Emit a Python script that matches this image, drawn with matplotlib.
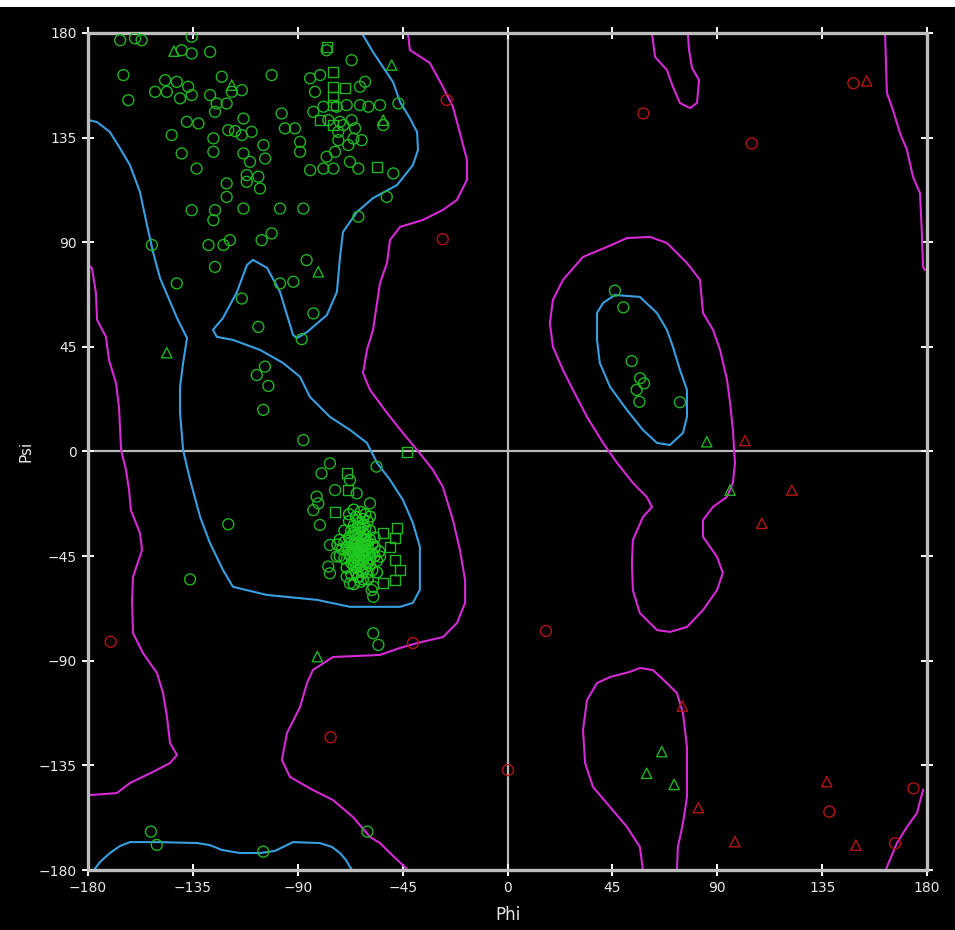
import matplotlib
matplotlib.use("Agg")
import matplotlib.pyplot as plt
from matplotlib.patches import Rectangle
import numpy as np

# ---------------- contour lines (phi, psi) ----------------
blue_beta = [(-180,142.6),(-176.1,141.7),(-170.6,137.4),(-166.3,130.5),(-162.0,123.2),(-157.7,111.6),
    (-154.7,97.4),(-152.1,85.8),(-149.1,74.6),(-141.8,57.4),(-137.5,48.8),(-139.2,38.1),(-140.5,27.8),
    (-140.5,16.6),(-139.2,0.7),(-136.2,-12.2),(-131.9,-28.1),(-127.7,-39.3),(-122.1,-50.9),(-117.8,-58.2),
    (-103.2,-61.7),(-81.8,-63.8),(-67.6,-66.8),(-46.1,-66.8),(-40.6,-65.1),(-37.6,-59.5),(-37.6,-41.0),
    (-40.6,-30.7),(-44.9,-20.8),(-50.4,-12.2),(-56.0,-4.9),(-60.3,3.7),(-67.6,9.3),(-76.2,14.9),
    (-84.8,23.5),(-89.0,32.1),(-96.3,38.1),(-106.2,43.7),(-117.8,48.0),(-124.7,49.3),(-126.4,52.3),
    (-122.1,57.4),(-116.1,68.6),(-111.8,80.2),(-109.2,82.4),(-103.2,79.0),(-97.6,68.6),(-92.0,50.1),
    (-90.3,48.8),(-86.0,51.4),(-77.5,58.7),(-73.2,68.6),(-71.9,83.3),(-70.6,94.4),(-64.6,103.0),
    (-57.7,109.0),(-47.4,114.6),(-40.6,123.2),(-38.4,129.7),(-38.8,137.4),(-41.9,143.4),(-46.1,150.3),
    (-49.1,158.9),(-57.7,171.8),(-62.0,179.1),(-62.4,180)]
blue_bottom = [(-177.4,-180),(-174.9,-176.6),(-170.6,-172.7),(-166.3,-169.7),(-162.0,-168.0),
    (-150.0,-168.0),(-133.2,-168.4),(-127.7,-169.3),(-122.5,-171.4),(-114.8,-172.7),(-106.2,-172.7),
    (-99.8,-171.8),(-95.5,-169.7),(-92.0,-168.0),(-80.5,-168.4),(-75.3,-170.1),(-71.9,-172.7),
    (-69.3,-175.7),(-67.6,-178.7),(-66.7,-180)]
blue_alphaL = [(46.1,67.3),(56.8,66.5),(64.1,59.6),(68.4,52.3),(71.0,45.0),(74.0,35.1),(77.0,26.5),
    (77.0,14.9),(75.3,8.0),(69.7,2.8),(64.1,3.7),(58.1,9.3),(51.2,17.9),(44.0,27.8),(39.6,38.1),
    (38.4,48.0),(38.4,59.6),(41.0,63.9),(46.1,67.3)]

mag_main = [(-42.7,180),(-41.9,172.7),(-33.3,167.1),(-27.7,156.8),(-23.4,148.2),(-20.4,137.0),
    (-17.4,125.4),(-17.4,116.8),(-21.7,108.2),(-27.7,103.9),(-36.3,99.6),(-46.1,96.6),(-50.4,91.0),
    (-51.7,81.1),(-54.7,72.5),(-57.7,52.3),(-60.3,43.7),(-62.0,33.8),(-59.0,26.5),(-51.7,16.6),
    (-44.9,8.0),(-38.8,0.7),(-32.0,-7.9),(-27.7,-15.3),(-23.4,-29.5),(-20.4,-42.4),(-18.2,-55.3),
    (-18.2,-65.1),(-21.7,-73.8),(-27.7,-79.8),(-38.8,-82.4),(-46.1,-84.5),(-54.7,-87.5),(-74.9,-88.4),
    (-83.5,-94.0),(-86.0,-99.5),(-89.0,-109.9),(-94.6,-121.0),(-96.8,-132.7),(-93.3,-140.0),
    (-83.5,-145.6),(-74.9,-149.9),(-66.3,-157.2),(-59.0,-165.8),(-54.7,-168.4),(-50.4,-172.7),(-42.7,-180)]
mag_left = [(-180,80.2),(-178.3,78.9),(-176.6,68.2),(-176.1,56.6),(-172.3,49.3),(-171.0,39.4),
    (-168.0,29.5),(-166.7,19.1),(-165.8,0.7),(-163.7,-7.9),(-162.4,-16.5),(-161.6,-25.2),(-157.7,-35.1),
    (-156.8,-42.4),(-160.7,-54.0),(-161.1,-63.9),(-160.7,-78.1),(-156.4,-86.7),(-150.4,-95.3),
    (-147.8,-103.9),(-146.1,-114.2),(-144.8,-125.4),(-141.8,-130.5),(-144.8,-134.0),(-152.1,-137.8),
    (-162.0,-142.6),(-167.6,-146.9),(-177.9,-147.7),(-180,-147.7)]
mag_alphaL = [(51.3,91.8),(61.1,92.3),(68.4,89.7),(77.0,81.1),(82.6,73.8),(83.9,59.6),(88.2,52.3),
    (91.2,43.7),(94.2,30.8),(95.5,20.9),(96.7,9.3),(97.6,-4.9),(96.7,-13.5),(94.2,-19.5),(88.2,-23.8),
    (83.9,-29.5),(83.9,-36.7),(89.9,-45.3),(92.4,-52.2),(89.9,-59.6),(83.9,-68.2),(77.0,-75.5),
    (69.7,-77.6),(64.1,-76.8),(56.8,-69.5),(53.8,-59.6),(53.4,-48.0),(53.8,-38.1),(58.1,-28.2),
    (62.0,-23.9),(59.8,-19.6),(53.8,-13.5),(47.0,-4.9),(41.0,3.7),(34.1,14.9),(28.1,26.5),(23.8,35.1),
    (19.5,45.0),(18.2,55.3),(19.5,65.2),(23.8,73.8),(32.4,83.7),(42.7,88.0),(51.3,91.8)]
mag_lowright = [(58.1,-180),(56.8,-170.1),(51.3,-161.5),(44.0,-152.9),(36.7,-144.3),(33.3,-134.0),
    (32.4,-119.8),(34.1,-106.9),(38.4,-99.6),(44.0,-97.0),(52.5,-94.8),(56.8,-93.1),(62.4,-94.0),
    (68.4,-99.6),(72.7,-103.9),(75.3,-112.5),(77.0,-127.1),(77.0,-148.6),(75.3,-159.8),(73.1,-170.1),(72.7,-180)]
mag_topdip = [(62.0,180),(63.3,169.7),(68.4,164.1),(71.0,156.8),(74.0,149.9),(78.3,147.7),(81.3,149.9),
    (82.2,159.8),(79.2,164.9),(77.9,172.7),(77.4,180)]
mag_righttop = [(162.0,180),(162.8,154.2),(165.4,146.9),(168.4,137.0),(171.4,129.7),(174.0,118.1),
    (177.0,111.2),(177.8,94.0),(178.3,79.4),(179.1,78.1)]
mag_rightbottom = [(178.3,-145.6),(175.7,-155.5),(171.4,-161.5),(167.1,-168.4),(162.8,-178.7),(162.4,-180)]

# ---------------- residues ----------------
green_circles = [(-166.2,176.9),(-159.8,177.7),(-157.0,176.9),(-135.5,178.4),(-139.8,172.6),(-135.5,171.2),
    (-127.6,171.9),(-164.8,161.9),(-162.7,151.1),(-151.2,154.7),(-146.9,159.7),(-146.2,154.7),(-141.9,159.0),
    (-140.5,151.9),(-137.0,156.9),(-135.5,153.3),(-127.6,153.3),(-124.8,149.7),(-125.5,146.1),(-120.5,149.7),
    (-122.6,161.2),(-114.0,155.4),(-118.3,154.7),(-137.6,141.8),(-132.6,141.1),(-144.1,136.1),(-139.8,128.2),
    (-133.4,121.7),(-126.2,134.7),(-126.2,128.9),(-119.8,138.2),(-116.9,137.8),(-113.3,143.2),(-114.0,136.1),
    (-109.8,137.5),(-104.7,131.8),(-104.0,126.0),(-113.3,128.2),(-110.5,124.6),(-111.9,118.9),(-106.9,118.2),
    (-111.9,116.0),(-106.2,113.1),(-120.5,115.3),(-120.5,109.5),(-113.3,104.5),(-125.5,103.8),(-135.5,103.8),
    (-126.2,99.5),(-128.3,88.8),(-121.9,88.8),(-119.1,90.9),(-105.5,90.9),(-101.2,93.8),(-125.5,79.4),
    (-141.9,72.3),(-114.0,65.8),(-106.9,53.6),(-97.6,104.5),(-87.6,104.5),(-101.2,161.9),(-96.9,145.4),
    (-95.5,139.0),(-91.2,139.0),(-89.0,133.2),(-89.0,128.9),(-84.7,121.0),(-79.0,121.7),(-74.7,121.7),
    (-77.6,126.8),(-74.0,128.9),(-152.6,88.8),
    (-77.6,172.6),(-66.9,168.3),(-84.7,160.5),(-80.4,161.9),(-82.6,154.7),(-79.0,148.3),(-73.3,148.3),
    (-69.0,149.0),(-63.3,149.0),(-59.7,148.3),(-54.7,149.0),(-63.3,156.9),(-61.1,159.0),(-46.8,149.7),
    (-53.3,140.4),(-83.3,146.1),(-76.9,142.5),(-71.9,141.8),(-66.9,142.5),(-70.4,140.4),(-65.4,139.0),
    (-72.6,133.9),(-68.3,131.8),(-66.1,134.6),(-62.6,133.9),(-72.6,137.5),(-67.6,124.6),(-64.0,121.7),
    (-49.0,119.6),(-51.8,109.5),(-64.0,101.0),(-86.2,82.3),(-97.6,72.3),(-91.9,73.0),(-83.3,59.4),(-88.3,48.3),
    (-104.1,36.5),(-107.6,32.9),(-102.6,28.2),(-104.8,17.9),(-87.6,4.9),(-76.2,-5.1),(-79.8,-9.4),
    (-67.6,-12.3),(-56.2,-6.5),(-74.0,-16.6),(-64.7,-18.0),(-81.9,-19.4),(-81.2,-22.3),(-83.3,-25.2),
    (-59.0,-22.3),(-80.5,-31.6),(-76.2,-40.2),(-54.7,-45.2),(-57.6,-58.2),(-57.6,-62.5),(-58.3,-59.6),
    (-76.9,-49.5),(-76.2,-52.4),(-73.3,-45.2),(-67.6,-56.7),(-69.0,-53.8),(-64.0,-53.8),(-119.8,-31.3),
    (-136.2,-55.0),(-57.6,-78.2),(-55.4,-83.2),(-153.0,-163.5),(-150.5,-169.2),(-104.8,-172.1),(-60.1,-163.5),
    (46.1,69.2),(49.7,62.0),(53.3,38.9),(56.9,31.5),(58.6,29.3),(55.4,26.5),(56.6,21.4),(74.0,21.2)]
helix_cluster = [(-64,-41),(-62,-40),(-66,-42),(-63,-44),(-65,-38),(-61,-43),(-67,-39),(-60,-41),(-63,-37),
    (-65,-46),(-62,-47),(-68,-44),(-59,-38),(-64,-35),(-66,-35),(-61,-36),(-69,-41),(-58,-44),(-63,-49),
    (-67,-48),(-60,-48),(-65,-50),(-62,-52),(-70,-46),(-57,-41),(-68,-37),(-61,-33),(-64,-31),(-66,-32),
    (-59,-34),(-71,-42),(-72,-38),(-56,-47),(-58,-51),(-64,-54),(-67,-53),(-60,-55),(-69,-50),(-62,-29),
    (-65,-28),(-60,-30),(-70,-34),(-57,-37),(-55,-43),(-56,-52),(-63,-56),(-66,-57),(-68,-30),(-72,-45),
    (-73,-40),(-61,-45),(-63,-42),(-65,-43),(-62,-38),(-64,-45),(-66,-40),(-60,-39),(-63,-46),(-67,-45),
    (-59,-46),(-62,-43),(-64,-39),(-61,-40),(-65,-40),(-63,-40),(-66,-44),(-60,-44),(-62,-35),(-68,-42),
    (-58,-40),(-64,-48),(-61,-50),(-66,-47),(-59,-49),(-63,-33),(-67,-34),(-65,-52),(-62,-55),(-70,-39),
    (-57,-45),(-63,-26),(-61,-27),(-66,-25),(-59,-28),(-68,-27),(-64,-43),(-62,-45),(-65,-36),(-61,-38),
    (-63,-51),(-66,-49),(-60,-52),(-64,-33),(-62,-32),(-67,-43)]
green_squares = [(-77.6,174.1),(-74.7,163.3),(-74.7,156.9),(-69.7,156.2),(-74.7,152.6),(-74.7,149.0),
    (-80.4,142.5),(-74.7,140.4),(-56.1,122.5),(-43.3,-0.1),(-69.0,-9.4),(-68.3,-16.6),(-74.0,-25.9),
    (-47.6,-33.1),(-53.3,-35.2),(-48.3,-37.4),(-50.4,-40.9),(-48.3,-46.7),(-46.2,-51.0),(-48.3,-55.3),
    (-53.3,-56.7)]
green_triangles = [(-143.1,172.2),(-118.3,157.6),(-49.7,166.2),(-53.3,142.5),(-81.2,77.3),(-146.2,42.5),
    (-81.6,-88.2),(85.5,4.2),(95.5,-16.6),(66.2,-129.1),(59.7,-138.4),(71.5,-143.2)]
red_circles = [(58.3,145.4),(104.8,132.5),(148.4,158.4),(-26.1,151.2),(-27.8,91.3),(138.1,-154.9),
    (174.2,-144.9),(166.3,-168.5),(-170.3,-81.8),(-75.9,-122.9),(-40.6,-82.4),(0.2,-137.0),(16.5,-77.2)]
red_triangles = [(154.1,159.4),(101.9,4.7),(122.0,-16.6),(109.1,-30.9),(75.0,-109.5),(81.9,-153.2),
    (97.6,-167.8),(137.0,-142.0),(149.5,-169.3)]

ticks = [-180, -135, -90, -45, 0, 45, 90, 135, 180]

# ---------------- figure ----------------
W, H = 955, 930
fig = plt.figure(figsize=(W/100, H/100), dpi=100, facecolor="black")
fig.patches.append(Rectangle((0, 1-7/H), 1, 7/H, transform=fig.transFigure,
                             facecolor="white", edgecolor="none", zorder=-1))
ax = fig.add_axes([88/W, 60/H, 839/W, 837/H])
ax.set_facecolor("black")

BLUE = "#3a9fe0"
MAG = "#d52ad5"
for line in [blue_beta, blue_bottom, blue_alphaL]:
    a = np.array(line)
    ax.plot(a[:, 0], a[:, 1], color=BLUE, lw=1.5, zorder=2)
for line in [mag_main, mag_left, mag_alphaL, mag_lowright, mag_topdip, mag_righttop, mag_rightbottom]:
    a = np.array(line)
    ax.plot(a[:, 0], a[:, 1], color=MAG, lw=1.5, zorder=2)

ax.axhline(0, color="#b8b8b8", lw=1.6, zorder=1)
ax.axvline(0, color="#b8b8b8", lw=1.6, zorder=1)

GREEN = "#22b422"
RED = "#b41414"
ms = 62
def sc(pts, marker, color, s=ms):
    a = np.array(pts, dtype=float)
    ax.scatter(a[:, 0], a[:, 1], s=s, marker=marker, facecolors="none",
               edgecolors=color, linewidths=1.0, zorder=3)

sc(green_circles, "o", GREEN)
sc(helix_cluster, "o", "#1fc81f")
sc(green_squares, "s", GREEN, s=52)
sc(green_triangles, "^", GREEN, s=55)
sc(red_circles, "o", RED)
sc(red_triangles, "^", RED, s=55)

ax.set_xlim(-180, 180)
ax.set_ylim(-180, 180)
ax.set_xticks(ticks)
ax.set_yticks(ticks)
for sp in ax.spines.values():
    sp.set_color("#bdbdbd")
    sp.set_linewidth(2.4)
ax.tick_params(direction="inout", length=8, width=1.4, color="white",
               top=True, right=True, labelcolor="#e8e8e8", labelsize=10, pad=4)
ax.set_xlabel("Phi", color="#e8e8e8", fontsize=12, labelpad=8)
ax.set_ylabel("Psi", color="#e8e8e8", fontsize=11, labelpad=4)

fig.savefig("out.png", dpi=100, facecolor="black")
